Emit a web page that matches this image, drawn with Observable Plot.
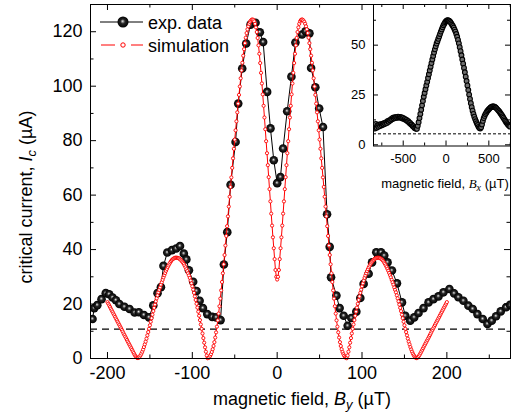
<!DOCTYPE html>
<html><head><meta charset="utf-8">
<script src="https://cdn.jsdelivr.net/npm/d3@7"></script>
<script src="https://cdn.jsdelivr.net/npm/@observablehq/plot@0.6"></script>
<style>
body{margin:0;background:#fff;}
#wrap{position:relative;width:511px;height:418px;overflow:hidden;}
#main{position:absolute;left:0;top:0;}
#inset{position:absolute;left:330px;top:0;}
svg{display:block;}
</style></head><body><div id="wrap"><div id="main"></div><div id="inset"></div></div>
<script>
// ---------- main plot data: critical current vs By ----------
const expX = [-217.6,-215.6,-212,-207,-202,-198,-194,-190,-186,-180,-174,-168,-163,-157,-151,-146,-141,-137,-134,-129.5,-124,-119,-114.5,-110,-107,-104,-99,-95,-91.4,-87.5,-82.4,-76.5,-71.8,-66.7,-62.8,-58.8,-54.9,-49,-45.9,-41.2,-36.5,-31.4,-25.5,-20.4,-16.5,-11.8,-7.9,-4,0,3.9,7,11.8,16.8,21.5,29.4,33.5,38,40,45,49.5,54,58.8,61.9,63.5,69.8,73.6,78.4,83.1,87.4,93.3,98,101.9,107.8,111.8,116.8,122.4,126.2,130.1,135.3,141.2,147.1,151,156.8,161.5,166.6,172.5,178.4,184.2,190.1,196,203,208.6,213.6,219.5,225.4,230.5,236,242.3,247.8,252.9,258,263.5,269.8,274.5];
const expY = [14.5,18.5,19.6,21.8,24,23.6,22.4,21.4,20,19,18.2,16.9,17,16,15.1,19.5,24,26.2,34,38.9,39.8,40.4,41.3,38.5,36.4,32.4,28.2,24.8,21.2,18.5,16.3,15.3,15.1,14.1,34.5,46.4,63.8,79.5,93.6,106.5,115.7,122.6,123.3,119.8,116.2,97.9,84.5,72.8,64.4,66.6,77.1,90.8,103.5,116,119,120.2,119.4,106.7,99.6,91.8,85,53,41,29.8,23.1,18.5,15.7,12,14.9,17.2,22.2,27.4,31.1,35.3,39,39,37.8,35.3,32.3,27.6,20.6,15.7,13.9,15.1,16.7,18.5,20.6,21.8,22.8,24.3,25.5,23.9,22.5,21.2,19.4,18.2,16.3,14.5,12.7,13.9,15.5,17.3,18.8,19.7];

// simulation, one value per µT from -200 to 200
const simStart = -200, simStep = 1;
const simY = [
20.7,20.1,19.5,18.9,18.3,17.7,17.1,16.5,15.9,15.3,14.7,14.1,13.5,12.9,12.3,11.7,11.1,10.5,9.9,9.2,
8.6,8.0,7.4,6.8,6.2,5.6,5.0,4.4,3.8,3.2,2.6,2.0,1.4,0.9,0.5,0.2,0.15,0.35,0.7,1.2,
1.8,2.5,3.3,4.2,5.2,6.2,7.3,8.5,9.7,10.9,12.2,13.5,14.8,16.1,17.4,18.6,19.8,21.0,22.1,23.2,
24.3,25.2,26.1,27.1,28.0,28.9,29.8,30.6,31.4,32.2,32.9,33.6,34.2,34.8,35.3,35.8,36.2,36.5,36.7,36.9,
37.0,37.0,37.0,36.9,36.8,36.6,36.3,36.0,35.6,35.2,34.7,34.1,33.5,32.8,32.1,31.3,30.5,29.6,28.6,27.6,
26.5,25.3,24.1,22.8,21.5,20.1,18.7,17.2,15.7,14.1,12.5,10.9,9.2,7.5,5.8,4.1,2.5,1.1,0.1,0.2,
0.5,1.0,1.6,2.4,3.4,4.6,6.0,7.7,9.6,11.7,14.0,16.5,19.2,22.0,25.0,28.1,31.3,34.6,38.0,41.5,
45.0,48.6,52.2,55.8,59.4,63.0,66.5,70.0,73.5,77.0,80.4,83.8,87.1,90.4,93.6,96.8,99.9,102.9,105.8,108.6,
111.2,113.6,115.8,117.8,119.5,120.9,122.0,122.9,123.6,124.1,124.4,124.5,124.3,123.8,122.9,121.6,119.9,117.7,115.0,111.9,
108.5,104.9,101.0,97.0,92.8,88.5,84.2,79.8,75.4,71.0,66.6,62.2,57.7,53.2,48.8,44.5,40.5,36.5,32.5,30.0,
29.0,
30.0,32.5,36.5,40.5,44.5,48.8,53.2,57.7,62.2,66.6,71.0,75.4,79.8,84.2,88.5,92.8,97.0,101.0,104.9,108.5,
111.9,115.0,117.7,119.9,121.6,122.9,123.8,124.3,124.5,124.4,124.1,123.6,122.9,122.0,120.9,119.5,117.8,115.8,113.6,111.2,
108.6,105.8,102.9,99.9,96.8,93.6,90.4,87.1,83.8,80.4,77.0,73.5,70.0,66.5,63.0,59.4,55.8,52.2,48.6,45.0,
41.5,38.0,34.6,31.3,28.1,25.0,22.0,19.2,16.5,14.0,11.7,9.6,7.7,6.0,4.6,3.4,2.4,1.6,1.0,0.5,
0.2,0.1,1.1,2.5,4.1,5.8,7.5,9.2,10.9,12.5,14.1,15.7,17.2,18.7,20.1,21.5,22.8,24.1,25.3,26.5,
27.6,28.6,29.6,30.5,31.3,32.1,32.8,33.5,34.1,34.7,35.2,35.6,36.0,36.3,36.6,36.8,36.9,37.0,37.0,37.0,
36.9,36.7,36.5,36.2,35.8,35.3,34.8,34.2,33.6,32.9,32.2,31.4,30.6,29.8,28.9,28.0,27.1,26.1,25.2,24.3,
23.2,22.1,21.0,19.8,18.6,17.4,16.1,14.8,13.5,12.2,10.9,9.7,8.5,7.3,6.2,5.2,4.2,3.3,2.5,1.8,
1.2,0.7,0.35,0.15,0.2,0.5,0.9,1.4,2.0,2.6,3.2,3.8,4.4,5.0,5.6,6.2,6.8,7.4,8.0,8.6,
9.2,9.9,10.5,11.1,11.7,12.3,12.9,13.5,14.1,14.7,15.3,15.9,16.5,17.1,17.7,18.3,18.9,19.5,20.1,20.7];
const mainDash = 10.8;

// ---------- inset data: critical current vs Bx ----------
const insetStart = -840, insetStep = 10;
const insetY = [
9.0,8.2,10.5,8.6,9.8,9.0,10.2,9.4,10.4,9.8,
10.6,10.2,11.0,10.6,11.4,11.0,12.0,11.6,12.4,12.2,
13.0,12.8,13.6,13.2,13.8,13.4,14.0,13.6,14.1,13.7,
14.0,13.6,13.8,13.2,13.5,12.9,13.0,12.4,12.5,11.8,
11.8,11.1,11.0,10.3,10.1,9.4,9.2,8.6,8.3,8.0,
8.0,9.5,11.3,13.4,15.5,17.6,19.8,22.0,24.1,26.0,
27.9,29.8,31.6,33.5,35.4,37.3,39.2,41.0,42.8,44.6,
46.3,47.9,49.4,50.8,52.0,53.2,54.4,55.6,56.8,57.9,
59.0,60.0,60.8,61.5,62.0,62.4,62.5,62.4,62.1,61.6,
61.0,60.3,59.6,58.8,57.8,56.8,55.6,54.2,52.6,50.9,
49.0,47.0,44.9,42.8,40.7,38.6,36.4,34.2,32.0,29.8,
27.5,25.2,23.0,20.9,18.9,17.1,15.5,14.1,12.9,11.8,
10.8,9.9,9.0,8.4,8.2,8.8,10.2,12.0,13.4,14.5,
15.4,16.1,16.8,17.4,17.9,18.3,18.7,19.0,19.2,19.3,
19.2,19.0,18.7,18.3,17.8,17.3,16.8,16.2,15.6,15.0,
14.3,13.6,12.9,12.2,11.5,10.9,10.3,9.8,9.4,9.1];
const insetDash = 5.5;

// ---------- ticks ----------
const xMajor = [-200,-100,0,100,200], xMinor = [-150,-50,50,150,250];
const yMajor = [0,20,40,60,80,100,120], yMinor = [10,30,50,70,90,110];
const ixMajor = [-500,0,500], ixMinor = [-750,-250,250,750];
const iyMajor = [0,25,50], iyMinor = [12.5,37.5,62.5];

const FONT = "Liberation Sans, Arial, sans-serif";
const exp = expX.map((x,i)=>({x, y: expY[i]}));
const sim = simY.map((y,i)=>({x: simStart + i*simStep, y}));
const ins = insetY.map((y,i)=>({x: insetStart + i*insetStep, y}));
const fmt = d => String(d).replace("\u2212","-");

function tickMarks(xMa, xMi, yMa, yMi, pw, ph, big, small){
  const o = {stroke:"black", strokeWidth:1};
  return [
    Plot.tickX(xMa, {...o, x:d=>d, insetTop: ph-big}),
    Plot.tickX(xMa, {...o, x:d=>d, insetBottom: ph-big}),
    Plot.tickX(xMi, {...o, x:d=>d, insetTop: ph-small}),
    Plot.tickX(xMi, {...o, x:d=>d, insetBottom: ph-small}),
    Plot.tickY(yMa, {...o, y:d=>d, insetRight: pw-big}),
    Plot.tickY(yMa, {...o, y:d=>d, insetLeft: pw-big}),
    Plot.tickY(yMi, {...o, y:d=>d, insetRight: pw-small}),
    Plot.tickY(yMi, {...o, y:d=>d, insetLeft: pw-small})
  ];
}

// ---------- main ----------
const W=511, H=418, mL=90, mR=1, mT=4, mB=60;
const pw = W-mL-mR, ph = H-mT-mB;
const mainSvg = Plot.plot({
  width: W, height: H, marginLeft: mL, marginRight: mR, marginTop: mT, marginBottom: mB,
  x: {domain: [-220, 275], axis: null},
  y: {domain: [0, 130], axis: null},
  style: {fontFamily: FONT, background: "white", overflow: "visible"},
  marks: [
    Plot.ruleY([mainDash], {stroke: "black", strokeWidth: 1.3, strokeDasharray: "7,5"}),
    Plot.line(exp, {x: "x", y: "y", stroke: "black", strokeWidth: 1, clip: true}),
    Plot.dot(exp, {x: "x", y: "y", r: 4.3, fill: "url(#sphere)", stroke: "none", clip: true}),
    Plot.line(sim, {x: "x", y: "y", stroke: "#ff0000", strokeWidth: 1}),
    Plot.dot(sim, {x: "x", y: "y", r: 1.6, fill: "white", stroke: "#ff0000", strokeWidth: 0.9}),
    Plot.frame({stroke: "black", strokeWidth: 1}),
    ...tickMarks(xMajor, xMinor, yMajor, yMinor, pw, ph, 6, 3.5),
    Plot.text(xMajor, {x: d=>d, text: fmt, frameAnchor: "bottom", dy: 20, fontSize: 18, fill: "black"}),
    Plot.text(yMajor, {y: d=>d, text: fmt, frameAnchor: "left", textAnchor: "end", dx: -8, fontSize: 18, fill: "black"})
  ]
});
document.getElementById("main").appendChild(mainSvg);

const svg = d3.select(mainSvg);
const defs = svg.insert("defs", ":first-child");
const grad = defs.append("radialGradient").attr("id","sphere")
  .attr("cx","50%").attr("cy","50%").attr("r","50%").attr("fx","46%").attr("fy","42%");
[["0%","#eeeeee"],["16%","#9a9a9a"],["42%","#252525"],["100%","#000"]].forEach(([o,c])=>
  grad.append("stop").attr("offset",o).attr("stop-color",c));

// axis titles
const yl = svg.append("text").attr("transform","translate(32,197) rotate(-90)")
  .attr("text-anchor","middle").attr("font-family",FONT).attr("font-size",18).attr("fill","black");
yl.append("tspan").text("critical current, ");
yl.append("tspan").attr("font-style","italic").text("I");
yl.append("tspan").attr("font-style","italic").attr("font-size",13).attr("dy",4).text("c");
yl.append("tspan").attr("dy",-4).text(" (\u00b5A)");

const xl = svg.append("text").attr("x",302).attr("y",405)
  .attr("text-anchor","middle").attr("font-family",FONT).attr("font-size",18).attr("fill","black");
xl.append("tspan").text("magnetic field, ");
xl.append("tspan").attr("font-style","italic").text("B");
xl.append("tspan").attr("font-style","italic").attr("font-size",13).attr("dy",4).text("y");
xl.append("tspan").attr("dy",-4).text(" (\u00b5T)");

// legend
const lg = svg.append("g").attr("font-family",FONT).attr("font-size",18).attr("fill","black").attr("text-anchor","start");
lg.append("line").attr("x1",100).attr("x2",143).attr("y1",22).attr("y2",22).attr("stroke","black");
lg.append("circle").attr("cx",123).attr("cy",22).attr("r",5.5).attr("fill","url(#sphere)");
lg.append("text").attr("x",148).attr("y",28.5).attr("text-anchor","start").text("exp. data");
lg.append("line").attr("x1",101).attr("x2",115).attr("y1",45).attr("y2",45).attr("stroke","#ff0000");
lg.append("line").attr("x1",131).attr("x2",143).attr("y1",45).attr("y2",45).attr("stroke","#ff0000");
lg.append("circle").attr("cx",123).attr("cy",45).attr("r",2.2).attr("fill","white").attr("stroke","#ff0000");
lg.append("text").attr("x",148).attr("y",51.5).attr("text-anchor","start").text("simulation");

// ---------- inset ----------
const iW=181, iH=200, imL=43, imR=1, imT=4, imB=54.5;
const ipw = iW-imL-imR, iph = iH-imT-imB;
const insetSvg = Plot.plot({
  width: iW, height: iH, marginLeft: imL, marginRight: imR, marginTop: imT, marginBottom: imB,
  x: {domain: [-847, 753], axis: null},
  y: {domain: [-0.6, 70.4], axis: null},
  style: {fontFamily: FONT, background: "transparent", overflow: "visible"},
  marks: [
    Plot.frame({fill: "white", stroke: "none"}),
    Plot.ruleY([insetDash], {stroke: "black", strokeWidth: 1, strokeDasharray: "3,2"}),
    Plot.dot(ins, {x: "x", y: "y", r: 2.4, fill: "#6e6e6e", stroke: "#000", strokeWidth: 1.1, clip: true}),
    Plot.frame({stroke: "black", strokeWidth: 1}),
    ...tickMarks(ixMajor, ixMinor, iyMajor, iyMinor, ipw, iph, 5, 3),
    Plot.text(ixMajor, {x: d=>d, text: fmt, frameAnchor: "bottom", dy: 17, fontSize: 13, fill: "black"}),
    Plot.text(iyMajor, {y: d=>d, text: fmt, frameAnchor: "left", textAnchor: "end", dx: -8, fontSize: 13, fill: "black"})
  ]
});
document.getElementById("inset").appendChild(insetSvg);
const isvg = d3.select(insetSvg);
const ixl = isvg.append("text").attr("x",115).attr("y",187.5)
  .attr("text-anchor","middle").attr("font-family",FONT).attr("font-size",13).attr("fill","black");
ixl.append("tspan").text("magnetic field, ");
ixl.append("tspan").attr("font-family","Liberation Serif, serif").attr("font-style","italic").text("B");
ixl.append("tspan").attr("font-family","Liberation Serif, serif").attr("font-style","italic").attr("font-size",10).attr("dy",3).text("x");
ixl.append("tspan").attr("dy",-3).text(" (\u00b5T)");
</script></body></html>
